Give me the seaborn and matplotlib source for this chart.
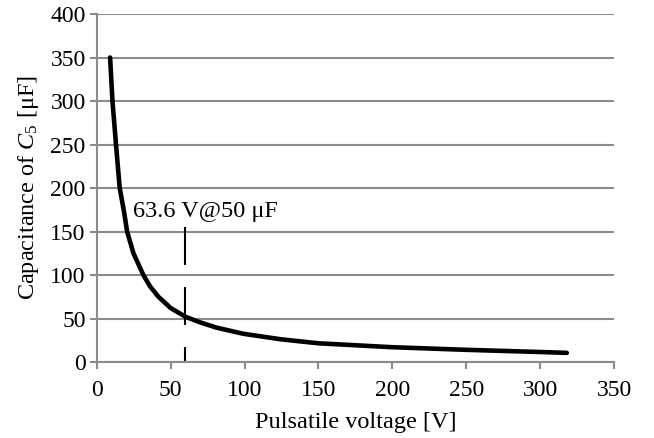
import matplotlib
matplotlib.use("Agg")
import matplotlib.pyplot as plt
import seaborn as sns
import pandas as pd

# Data
voltage = [9.0, 10.6, 13.0, 15.5, 18.5, 20.5, 24.8, 31.5, 36, 41.7, 50, 60, 70, 81, 99, 125, 150, 200, 250, 300, 318]
capacitance = [350, 300, 250, 200, 172, 150, 125, 100, 87, 75, 62, 52, 45.5, 39.5, 32.5, 26, 21.5, 17, 14, 11.5, 10.5]
marker_voltage = [60, 60]
marker_cap = [155, 0]
annotation = "63.6 V@50 μF"
x_ticks = [0, 50, 100, 150, 200, 250, 300, 350]
y_ticks = [0, 50, 100, 150, 200, 250, 300, 350, 400]

sns.set_theme(style="white")
plt.rcParams["font.family"] = ["Liberation Serif", "DejaVu Serif"]
plt.rcParams["mathtext.fontset"] = "custom"
plt.rcParams["mathtext.rm"] = "Liberation Serif"
plt.rcParams["mathtext.it"] = "Liberation Serif:italic"

fig = plt.figure(figsize=(6.54, 4.38), dpi=100)
ax = fig.add_axes([0.148, 0.1735, 0.791, 0.7945])

df = pd.DataFrame({"V": voltage, "C": capacitance})
sns.lineplot(data=df, x="V", y="C", ax=ax, color="black", linewidth=3.3, sort=False)
ax.lines[-1].set_solid_joinstyle("round")
ax.plot(marker_voltage, marker_cap, color="black", linewidth=1.5,
        linestyle=(0, (18.2, 10.6)), solid_capstyle="butt", dash_capstyle="butt")
ax.text(24.5, 167, annotation, fontsize=17.5, color="black", va="baseline", ha="left")

grid_c = "#8c8c8c"
ax.set_xlim(0, 350)
ax.set_ylim(0, 400)
ax.set_xticks(x_ticks)
ax.set_yticks(y_ticks)
ax.set_xticklabels([str(t) for t in x_ticks], fontsize=17)
ax.set_yticklabels([str(t) for t in y_ticks], fontsize=17)
ax.yaxis.grid(True, color=grid_c, linewidth=1.5)
ax.xaxis.grid(False)
ax.set_axisbelow(True)
for s in ["top", "right"]:
    ax.spines[s].set_visible(False)
for s in ["left", "bottom"]:
    ax.spines[s].set_color(grid_c)
    ax.spines[s].set_linewidth(1.5)
ax.tick_params(axis="x", direction="out", length=5, width=1.5, color=grid_c,
               labelcolor="black", pad=8, bottom=True)
ax.tick_params(axis="y", direction="out", length=5, width=1.5, color=grid_c,
               labelcolor="black", pad=3, left=True)
ax.set_xlabel("Pulsatile voltage [V]", fontsize=17.5, color="black", labelpad=8)
ax.set_ylabel("Capacitance of $C_5$ [μF]", fontsize=17.5, color="black", labelpad=7)

fig.savefig("out.png", dpi=100)
